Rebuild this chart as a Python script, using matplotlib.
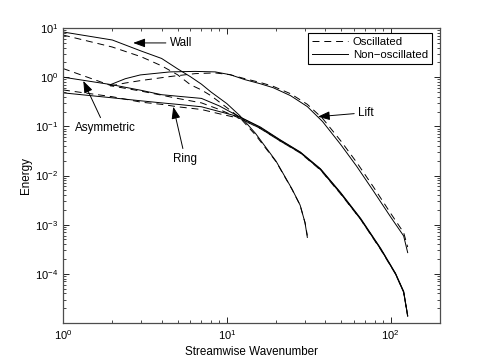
import matplotlib
matplotlib.use('Agg')
import matplotlib.pyplot as plt

plt.rcParams['font.family'] = ['Liberation Sans', 'DejaVu Sans']
plt.rcParams['mathtext.default'] = 'regular'
plt.rcParams['lines.scale_dashes'] = False

# energy spectra
wall_k = [1, 2, 3, 4, 5, 6, 7, 8, 10, 12, 15, 20, 25, 28, 30, 31]
wall_non = [8.3, 5.7, 3.4, 2.4, 1.48, 1.02, 0.72, 0.50, 0.29, 0.165, 0.071, 0.0194, 0.0053, 0.0025, 0.0011, 0.00055]
wall_osc = [7.2, 4.1, 2.6, 1.7, 1.12, 0.70, 0.55, 0.42, 0.24, 0.15, 0.066, 0.019, 0.0052, 0.0025, 0.0011, 0.0006]

lift_k = [1.94, 2.4, 2.96, 4.5, 6.4, 8.5, 10.5, 12.9, 16, 19.2, 24.5, 31, 38.4, 49.5, 62, 78.6, 100, 120, 127]
lift_non = [0.70, 0.93, 1.11, 1.28, 1.31, 1.28, 1.12, 0.89, 0.735, 0.61, 0.42, 0.252, 0.125, 0.0428,
            0.0154, 0.0048, 0.00143, 0.00059, 0.00027]
lift_osc = [0.66, 0.76, 0.85, 1.03, 1.18, 1.22, 1.12, 0.93, 0.78, 0.65, 0.46, 0.28, 0.145, 0.051,
            0.0185, 0.0058, 0.0017, 0.00069, 0.00035]

ar_k = [1, 2, 3, 4, 5, 7, 9, 12, 16, 21.2, 28.1, 37.3, 49.5, 65.6, 86.9, 107, 120, 127]
asym_non = [1.0, 0.70, 0.54, 0.44, 0.41, 0.37, 0.26, 0.155, 0.097, 0.053, 0.030, 0.0137, 0.0045,
            0.00134, 0.00033, 0.000103, 4.4e-5, 1.4e-5]
asym_osc = [1.5, 0.66, 0.52, 0.43, 0.37, 0.30, 0.22, 0.145, 0.091, 0.050, 0.0285, 0.0129, 0.0042,
            0.00127, 0.00031, 0.000099, 4.2e-5, 1.35e-5]
ring_non = [0.48, 0.38, 0.33, 0.30, 0.28, 0.25, 0.20, 0.155, 0.094, 0.052, 0.0295, 0.0134, 0.0044,
            0.0013, 0.00032, 0.0001, 4.3e-5, 1.4e-5]
ring_osc = [0.55, 0.40, 0.31, 0.28, 0.25, 0.22, 0.18, 0.145, 0.090, 0.050, 0.029, 0.0131, 0.0043,
            0.00128, 0.00032, 0.0001, 4.2e-5, 1.4e-5]

fig = plt.figure(figsize=(4.85, 3.64), dpi=100)
ax = fig.add_axes([63/485, 41/364, 377/485, 295/364])

lw = 0.7
dash = (5, 3.5)
series = [(wall_k, wall_non, wall_osc), (lift_k, lift_non, lift_osc),
          (ar_k, asym_non, asym_osc), (ar_k, ring_non, ring_osc)]
for k, non, osc in series:
    h_osc, = ax.loglog(k, osc, color='k', lw=lw, ls=(0, dash))
    h_non, = ax.loglog(k, non, color='k', lw=lw, ls='-')

ax.set_xlim(1, 200)
ax.set_ylim(1e-5, 10)
ax.set_yticks([1e-4, 1e-3, 1e-2, 1e-1, 1, 10])
ax.set_xticks([1, 10, 100])

ax.tick_params(which='both', direction='in', top=True, right=True, labelsize=8, colors='k')
ax.tick_params(which='major', length=4, width=0.6)
ax.tick_params(which='minor', length=2, width=0.5)
for s in ax.spines.values():
    s.set_linewidth(0.9)
    s.set_color('0.3')

ax.set_xlabel('Streamwise Wavenumber', fontsize=8.4, labelpad=3)
ax.set_ylabel('Energy', fontsize=8.4, labelpad=2)

aprops = dict(arrowstyle='-|>,head_length=0.6,head_width=0.22', color='k', lw=0.7,
              mutation_scale=12, shrinkA=1, shrinkB=0)
ax.annotate('Wall', xy=(2.68, 4.97), xytext=(4.5, 4.97), fontsize=8.4,
            ha='left', va='center', arrowprops=aprops)
ax.annotate('Lift', xy=(35.9, 0.157), xytext=(63.5, 0.19), fontsize=8.4,
            ha='left', va='center', arrowprops=aprops)
ax.annotate('Asymmetric', xy=(1.33, 0.84), xytext=(1.81, 0.094), fontsize=8.4,
            ha='center', va='center', arrowprops=aprops)
ax.annotate('Ring', xy=(4.71, 0.25), xytext=(5.57, 0.022), fontsize=8.4,
            ha='center', va='center', arrowprops=aprops)

leg = ax.legend([h_osc, h_non], ['Oscillated', 'Non\u2212oscillated'], loc='upper right',
                bbox_to_anchor=(0.979, 0.983), borderaxespad=0, fontsize=8.2,
                fancybox=False, framealpha=1, edgecolor='k', handlelength=3.2,
                handletextpad=0.4, borderpad=0.35, labelspacing=0.25)
leg.get_frame().set_linewidth(0.8)

fig.savefig('out.png', dpi=100)
